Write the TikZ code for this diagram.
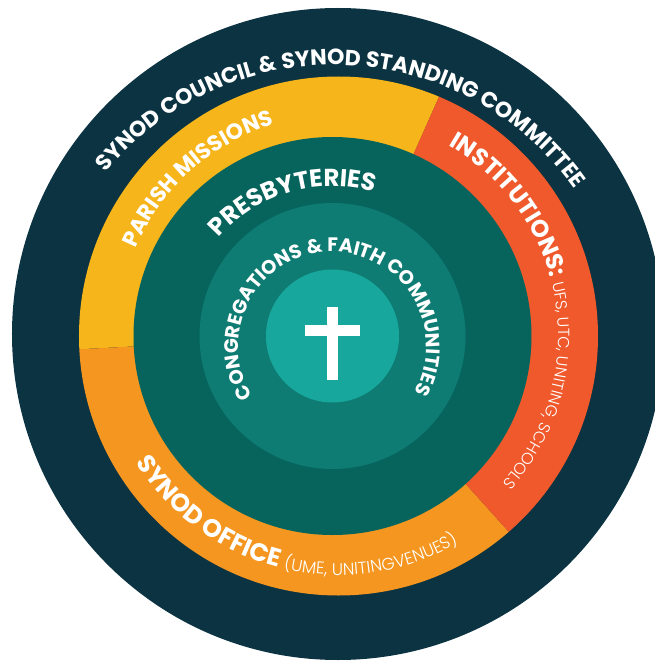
\documentclass[tikz,border=0pt]{standalone}
\usepackage{fontspec}
\setmainfont{Poppins}
\newfontfamily\lightfont{Poppins Light}
\usetikzlibrary{decorations.text}

\definecolor{synodblue}{HTML}{0B3341}
\definecolor{parishyellow}{HTML}{F6B51A}
\definecolor{officeorange}{HTML}{F49620}
\definecolor{institutionred}{HTML}{EF592B}
\definecolor{presbyteal}{HTML}{06645D}
\definecolor{congteal}{HTML}{0F7C74}
\definecolor{coreteal}{HTML}{17A79C}

\newcommand{\bigcaps}[1]{\fontsize{#1}{#1}\selectfont\bfseries\color{white}}
\newcommand{\thincaps}[1]{\lightfont\fontsize{#1}{#1}\selectfont\color{white}}

\begin{document}
\begin{tikzpicture}[x=1pt,y=1pt,
      ringtext/.style = {decorate, decoration={text along path,
         text align=center, text={#1}}},
      ringtextleft/.style = {decorate, decoration={text along path,
         text align=left, text={#1}}}]

   \useasboundingbox (-332.5,-331) rectangle (322.5,336);

   \coordinate (core)  at (0,0);
   \coordinate (ringc) at (6,0);
   \coordinate (outer) at (5.5,2);

   % synod council
   \fill[synodblue] (outer) circle[radius=326];

   % ring of three sectors
   \begin{scope}
      \clip (ringc) circle[radius=259.5];
      \fill[parishyellow]   (core) -- (66:400)  arc[start angle=66,  end angle=183, radius=400] -- cycle;
      \fill[officeorange]   (core) -- (183:400) arc[start angle=183, end angle=312, radius=400] -- cycle;
      \fill[institutionred] (core) -- (-48:400) arc[start angle=-48, end angle=66,  radius=400] -- cycle;
   \end{scope}

   % presbyteries, congregations, centre
   \fill[presbyteal]   (core) circle[radius=199];
   \fill[congteal]     (core) circle[radius=133];
   \fill[coreteal]     (core) circle[radius=66.5];

   % cross
   \fill[white] (-5.8,-44) rectangle (5.8,29);
   \fill[white] (-27.5,0) rectangle (27.5,11);

   % labels along the rings
   \path[ringtext={|\bigcaps{22}|SYNOD COUNCIL {\&} SYNOD STANDING COMMITTEE}]
      (1.3,-25) ++(178:296) arc[start angle=178, end angle=-2, radius=296];

   \path[ringtext={|\bigcaps{22}|PARISH MISSIONS}]
      (ringc) ++(180:221) arc[start angle=180, end angle=83.6, radius=221];

   \path[ringtextleft={|\bigcaps{24}|INSTITUTIONS: |\thincaps{16}|UFS, UTC, UNITING, SCHOOLS}]
      (ringc) ++(60:220) arc[start angle=60, end angle=-70, radius=220];

   \path[ringtextleft={|\bigcaps{25}|SYNOD OFFICE |\thincaps{17}|(UME, UNITINGVENUES)}]
      (ringc) ++(212:239) arc[start angle=212, end angle=330, radius=239];

   \path[ringtext={|\bigcaps{24.5}|PRESBYTERIES}]
      (core) ++(180:150) arc[start angle=180, end angle=33, radius=150];

   \path[ringtext={|\bigcaps{19.5}|CONGREGATIONS {\&} FAITH COMMUNITIES}]
      (0,-10) ++(240:94) arc[start angle=240, end angle=-57, radius=94];

\end{tikzpicture}
\end{document}
